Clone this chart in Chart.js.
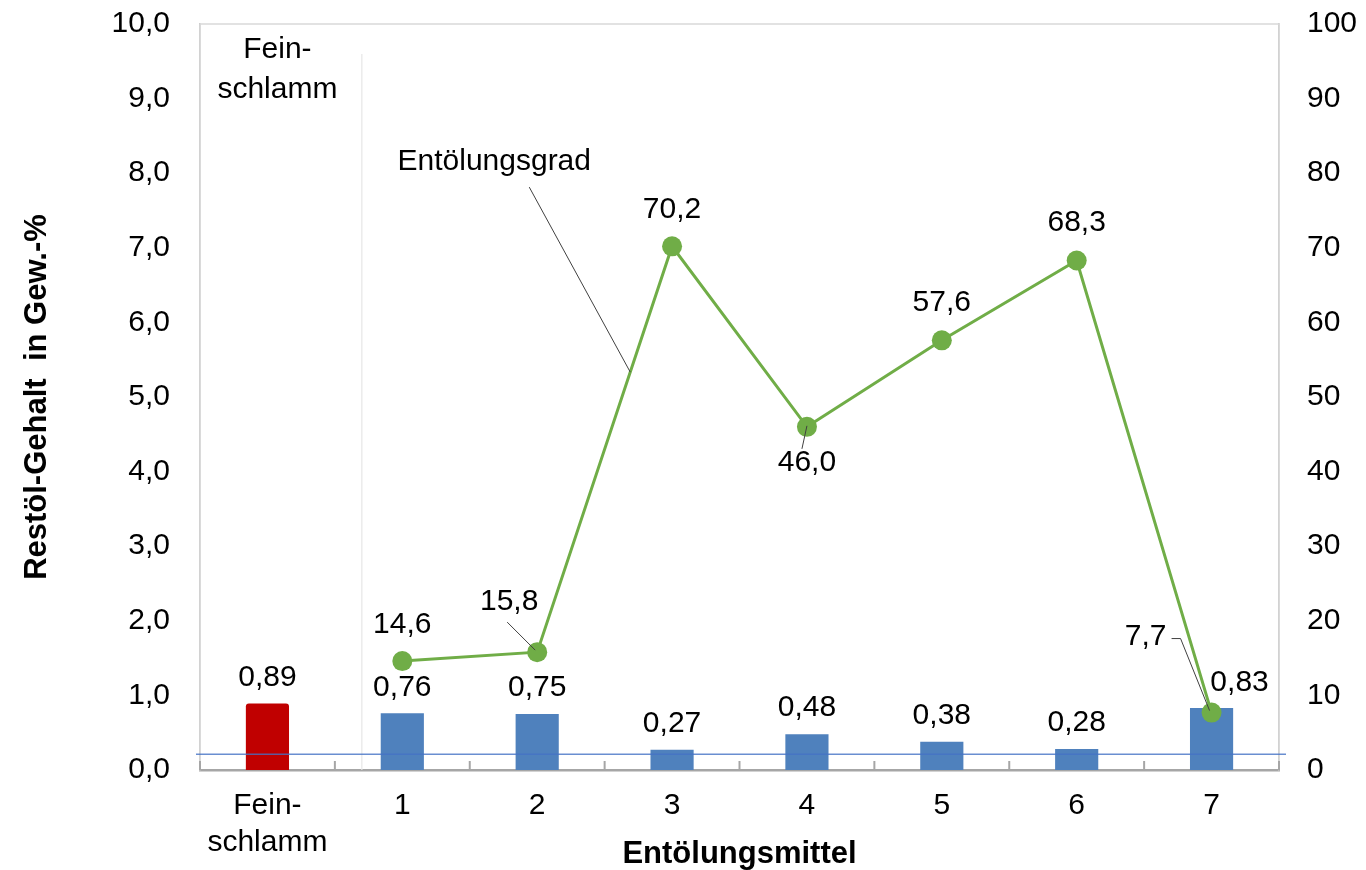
<!DOCTYPE html>
<html lang="de">
<head>
    <meta charset="UTF-8">
    <title>Entölungsmittel</title>
    <script src="https://cdn.jsdelivr.net/npm/chart.js"></script>
    <style>
        html, body { margin: 0; padding: 0; background: #fff; }
        #chartBox { width: 1366px; height: 870px; }
    </style>
</head>
<body>
    <div id="chartBox"><canvas id="oilChart" width="1366" height="870"></canvas></div>

    <script>
        // Daten aus der Abbildung
        const categories = [['Fein-', 'schlamm'], '1', '2', '3', '4', '5', '6', '7'];
        const restoelGehalt = [0.89, 0.76, 0.75, 0.27, 0.48, 0.38, 0.28, 0.83];
        const entoelungsgrad = [null, 14.6, 15.8, 70.2, 46.0, 57.6, 68.3, 7.7];
        const leftTicks = [0, 1, 2, 3, 4, 5, 6, 7, 8, 9, 10];
        const rightTicks = [0, 10, 20, 30, 40, 50, 60, 70, 80, 90, 100];
        const referenceLevel = 0.21;

        // Farben
        const barColors = ['#C00000', '#4F81BD', '#4F81BD', '#4F81BD', '#4F81BD', '#4F81BD', '#4F81BD', '#4F81BD'];
        const lineColor = '#70AD47';

        // Label-Versatz (Pixel) relativ zum Punkt bzw. Balken
        const barLabelShift = [[0, -26], [0, -26], [0, -26], [0, -26], [0, -26], [0, -26], [0, -26], [28, -25]];
        const lineLabelShift = [null, [0, -36], [-28, -50], [0, -37], [0, 36], [0, -38], [0, -38], [-66, -76]];

        const fontFamily = '"Liberation Sans", Arial, sans-serif';
        const labelFont = '30px ' + fontFamily;
        Chart.defaults.font.family = fontFamily;
        Chart.defaults.color = '#000';

        const fmt = (v, d) => v.toFixed(d).replace('.', ',');

        const noPad = (s) => { s.paddingTop = 0; s.paddingBottom = 0; s.paddingLeft = 0; s.paddingRight = 0; };

        const decorPlugin = {
            id: 'decor',
            beforeDatasetsDraw(chart) {
                const { ctx, chartArea: a, scales: { x } } = chart;
                ctx.save();
                // Rahmen oben/rechts
                ctx.strokeStyle = '#d9d9d9';
                ctx.lineWidth = 1.5;
                ctx.beginPath();
                ctx.moveTo(a.left, a.bottom);
                ctx.lineTo(a.left, a.top);
                ctx.lineTo(a.right, a.top);
                ctx.lineTo(a.right, a.bottom);
                ctx.stroke();
                // Trennlinie Feinschlamm
                const sx = x.getPixelForValue(0.7);
                ctx.strokeStyle = '#e6e6e6';
                ctx.lineWidth = 1.2;
                ctx.beginPath();
                ctx.moveTo(sx, a.top + 30);
                ctx.lineTo(sx, a.bottom);
                ctx.stroke();
                // Feinschlamm-Beschriftung oben
                ctx.fillStyle = '#000';
                ctx.font = labelFont;
                ctx.textAlign = 'center';
                ctx.textBaseline = 'middle';
                const fx = x.getPixelForValue(0) + 10;
                ctx.fillText('Fein-', fx, a.top + 26);
                ctx.fillText('schlamm', fx, a.top + 66);
                ctx.restore();
            },
            afterDatasetsDraw(chart) {
                const { ctx, chartArea: a, scales: { x, y } } = chart;
                ctx.save();
                // Achsenstriche nach innen
                ctx.strokeStyle = '#a6a6a6';
                ctx.lineWidth = 2;
                for (let i = 0; i <= categories.length; i++) {
                    const tx = x.getPixelForValue(i - 0.5);
                    ctx.beginPath();
                    ctx.moveTo(tx, a.bottom);
                    ctx.lineTo(tx, a.bottom - 9);
                    ctx.stroke();
                }
                // Bezugslinie
                const ry = y.getPixelForValue(referenceLevel);
                ctx.strokeStyle = 'rgba(68, 114, 196, 0.8)';
                ctx.lineWidth = 1.5;
                ctx.beginPath();
                ctx.moveTo(a.left - 4, ry);
                ctx.lineTo(a.right + 7, ry);
                ctx.stroke();

                ctx.font = labelFont;
                ctx.fillStyle = '#000';
                ctx.textAlign = 'center';
                ctx.textBaseline = 'middle';

                // Balkenwerte
                const barMeta = chart.getDatasetMeta(1);
                barMeta.data.forEach((bar, i) => {
                    const [dx, dy] = barLabelShift[i];
                    ctx.fillText(fmt(restoelGehalt[i], 2), bar.x + dx, bar.y + dy);
                });

                // Linienwerte
                const lineMeta = chart.getDatasetMeta(0);
                const pts = lineMeta.data;
                ctx.strokeStyle = '#404040';
                ctx.lineWidth = 1;
                entoelungsgrad.forEach((v, i) => {
                    if (v === null) return;
                    const p = pts[i];
                    const [dx, dy] = lineLabelShift[i];
                    ctx.fillText(fmt(v, 1), p.x + dx, p.y + dy);
                });
                // Führungslinien
                const p2 = pts[2], p4 = pts[4], p7 = pts[7];
                ctx.beginPath();
                ctx.moveTo(p2.x - 30, p2.y - 30);
                ctx.lineTo(p2.x - 2, p2.y - 2);
                ctx.moveTo(p4.x - 5, p4.y + 22);
                ctx.lineTo(p4.x, p4.y - 1);
                ctx.moveTo(p7.x - 40, p7.y - 74);
                ctx.lineTo(p7.x - 31, p7.y - 74);
                ctx.lineTo(p7.x - 2, p7.y - 2);
                ctx.stroke();

                // Serienbeschriftung "Entölungsgrad"
                const p3 = pts[3];
                const t = 0.69;
                const ex = p2.x + t * (p3.x - p2.x);
                const ey = p2.y + t * (p3.y - p2.y);
                ctx.beginPath();
                ctx.moveTo(ex - 101, ey - 185);
                ctx.lineTo(ex, ey);
                ctx.stroke();
                ctx.fillText('Entölungsgrad', ex - 136, ey - 210);
                ctx.restore();
            }
        };

        const ctx = document.getElementById('oilChart').getContext('2d');
        new Chart(ctx, {
            data: {
                labels: categories,
                datasets: [{
                    type: 'line',
                    label: 'Entölungsgrad',
                    data: entoelungsgrad,
                    yAxisID: 'y2',
                    borderColor: lineColor,
                    backgroundColor: lineColor,
                    borderWidth: 3,
                    pointRadius: 10,
                    pointHoverRadius: 10,
                    pointBorderWidth: 0,
                    tension: 0,
                    order: 0
                }, {
                    type: 'bar',
                    label: 'Restöl-Gehalt',
                    data: restoelGehalt,
                    yAxisID: 'y',
                    backgroundColor: barColors,
                    borderRadius: (c) => (c.dataIndex === 0 ? { topLeft: 3, topRight: 3 } : 0),
                    borderSkipped: 'bottom',
                    categoryPercentage: 1,
                    barPercentage: 0.32,
                    order: 1
                }]
            },
            options: {
                responsive: false,
                animation: false,
                layout: { padding: { top: 24, left: 0, right: 0, bottom: 0 } },
                plugins: {
                    legend: { display: false },
                    tooltip: { enabled: false }
                },
                scales: {
                    x: {
                        offset: true,
                        grid: { display: false },
                        border: { display: true, color: '#a6a6a6', width: 2.5 },
                        ticks: { font: { size: 30, lineHeight: 1.23 }, padding: 9, maxRotation: 0, autoSkip: false },
                        title: { display: true, text: 'Entölungsmittel', font: { size: 31, weight: 'bold', lineHeight: 1.0 }, padding: { top: 0, bottom: 0 } },
                        afterFit: (s) => { s.height = 100; noPad(s); }
                    },
                    y: {
                        position: 'left',
                        min: 0,
                        max: 10,
                        afterBuildTicks: (s) => { s.ticks = leftTicks.map(v => ({ value: v })); },
                        grid: { display: false },
                        border: { display: true, color: '#bfbfbf', width: 1.5 },
                        ticks: { font: { size: 30 }, padding: 22, callback: (v) => fmt(v, 1) },
                        title: { display: true, text: 'Restöl-Gehalt  in Gew.-%', font: { size: 31, weight: 'bold', lineHeight: 1.2 }, padding: { top: 19, bottom: 0 } },
                        afterFit: (s) => { s.width = 200; noPad(s); }
                    },
                    y2: {
                        position: 'right',
                        min: 0,
                        max: 100,
                        afterBuildTicks: (s) => { s.ticks = rightTicks.map(v => ({ value: v })); },
                        grid: { display: false },
                        border: { display: true, color: '#bfbfbf', width: 1.5 },
                        ticks: { font: { size: 30 }, padding: 20 },
                        afterFit: (s) => { s.width = 87; noPad(s); }
                    }
                }
            },
            plugins: [decorPlugin]
        });
    </script>
</body>
</html>
